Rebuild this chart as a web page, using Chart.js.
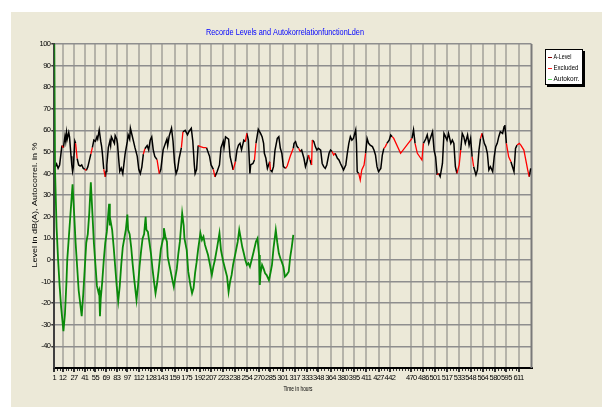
<!DOCTYPE html>
<html><head><meta charset="utf-8">
<style>html,body{margin:0;padding:0;background:#fff;}canvas{display:block;}</style>
<script src="https://cdn.jsdelivr.net/npm/chart.js@4.4.1/dist/chart.umd.min.js"></script>
</head><body>
<canvas id="c" width="602" height="407"></canvas>
<script>
const chartTitle = 'Recorde Levels and AutokorrelationfunctionLden';
const xAxisTitle = 'Time in hours';
const yAxisTitle = 'Level in dB(A), Autocorrel. in %';
const seriesNames = ['A-Level', 'Excluded', 'Autokorr.'];
const xTickHours = [1,12,27,41,55,69,83,97,112,128,143,159,175,192,207,223,238,254,270,285,301,317,333,348,364,380,395,411,427,442,470,486,501,517,533,548,564,580,595,611];
const yTickValues = [-40,-30,-20,-10,0,10,20,30,40,50,60,70,80,90,100];

// A-Level readings: [hour, dB(A)]
const levelReadings = [[2,43],[4,44.5],[6,42.5],[8,44],[11,53],[13,52],[15,57.3],[16,55],[17,59],[18,56],[20,59],[21,57],[23,48],[24,44],[25,41],[26,43],[28,55],[29,54],[31,47],[33,44],[35,43.5],[37,44],[39,42.5],[41,42],[43,41.5],[45,43],[47,46],[49,49],[51,52],[53,55.5],[55,55],[57,57],[58,56],[60,60.2],[62,55],[63,53],[64,50],[66,42],[68,38.5],[69,41],[70,44],[72,52],[74,55],[75,53],[76,57],[78,55.5],[80,54],[81,57.6],[83,56],[84,54],[86,45],[87,41],[89,42.5],[91,40],[94,49],[97,55],[98,58],[100,56],[101,61],[103,58],[105,55],[107,52],[110,48],[112,42],[114,40],[116,43],[118,49],[120,51.5],[123,53],[125,51],[127,55.5],[129,57],[131,51],[133,48],[136,46.5],[138,42],[139,40],[141,42],[144,51],[147,54],[149,56],[150,53],[152,57.5],[155,61],[157,55],[159,45],[161,40],[163,42],[165,47],[168,52],[170,59.3],[173,60],[176,58],[178,59.5],[181,61],[183,55],[185,44],[186,40],[188,42],[190,53],[193,52.5],[197,52],[201,52],[205,48],[207,44],[210,42],[212,38.5],[215,41],[218,44],[220,52],[223,55],[224,52],[226,57],[230,56],[232,47.8],[236,41.7],[239,45.5],[241,50.9],[243,53.2],[245,54],[247,51],[250,55.5],[252,54.8],[254,58.6],[256,55.5],[258,40.1],[259,44],[262,44.7],[264,46.3],[266,54],[269,60.5],[272,58.6],[274,57.1],[276,54],[277,49.4],[279,47.1],[281,42.4],[284,45.5],[285,41.7],[287,40.9],[289,43.2],[291,50.9],[294,56.3],[296,57.1],[298,51.7],[300,49.4],[302,43.2],[305,42.4],[307,43.5],[311,48],[315,51.7],[316,54],[318,54.8],[320,52.5],[322,51.7],[324,50.2],[326,50.9],[329,47.1],[331,43.2],[333,45.5],[335,48.6],[337,46.3],[339,44],[340,55.5],[342,54.8],[344,52.5],[346,50.9],[348,51.7],[351,50.9],[353,44.7],[355,43.2],[357,42.4],[359,44],[362,49.4],[364,50.9],[366,50.2],[368,48.6],[370,49.4],[373,47.1],[375,46.3],[377,44.7],[379,43.2],[381,41.7],[384,44],[386,49.4],[388,54],[390,57.1],[392,55.5],[394,56.3],[397,60.2],[398,54],[399,40.9],[401,40.1],[403,37],[405,41.7],[408,44],[410,49.4],[412,56.3],[414,54],[416,53.2],[419,52.5],[421,50.9],[423,48.6],[425,43.2],[427,40.9],[430,42.4],[432,48.6],[434,51.7],[436,52.5],[438,54],[441,55.5],[443,57.9],[445,57.1],[447,56.3],[456,49.4],[471,56.3],[473,60.2],[475,54],[478,49.4],[484,46.3],[486,54],[489,56],[491,57.9],[493,54],[495,56.3],[498,59.4],[500,50.9],[502,47.8],[504,39.4],[506,40.1],[508,38.6],[511,44.7],[513,58.6],[515,57.1],[517,55.5],[519,58.6],[522,54],[524,55.5],[526,54],[528,43.2],[530,40.1],[533,44],[535,50.9],[537,58.6],[539,57.1],[541,54],[544,57.9],[546,53.2],[548,56.3],[550,47.8],[552,43.2],[555,39.4],[557,41.7],[559,50.9],[561,56.3],[563,58.6],[566,54],[568,52.5],[570,49.4],[572,41.7],[574,43.2],[577,40.9],[579,47.8],[581,52.5],[583,54],[585,57.1],[587,59.4],[590,58.6],[592,61.7],[593,62.5],[595,54],[598,47.8],[601,45.5],[603,43.2],[605,40.9],[607,51.7],[609,53.2],[612,54],[614,53.2],[618,50.9],[623,41.7],[625,38.6],[627,42.4]];

// hour ranges of A-Level readings flagged as excluded: [from, to]
const excludedRanges = [[11,13],[29,31],[41,43],[49,51],[66,68],[118,120],[136,139],[168,170],[190,201],[210,212],[236,239],[252,254],[264,266],[284,285],[305,315],[322,324],[335,337],[339,340],[366,370],[401,410],[434,438],[445,471],[475,486],[504,506],[530,535],[550,552],[561,563],[595,601],[609,625]];

// autocorrelation readings: [lag hour, %]
const autocorrReadings = [[1,100],[2,41],[4,15],[6,0],[8,-12],[10,-22],[13,-33],[15,-25],[17,-10],[18,0],[20,10],[22,20],[25,35],[27,22],[29,8],[31,-3],[33,-14],[35,-20],[37,-26],[39,-16],[41,-4],[43,8],[45,12],[47,22],[49,36],[51,22],[53,8],[55,-2],[57,-12],[59,-15],[60,-14],[61,-26],[62,-18],[64,-10],[66,0],[68,8],[70,13],[73,26],[74,16],[75,18],[77,14],[79,6],[81,-3],[83,-12],[85,-19],[87,-12],[89,-2],[91,6],[93,10],[95,14],[97,21],[98,14],[100,12],[102,6],[104,-2],[106,-9],[109,-18.5],[111,-12],[113,-3],[115,4],[117,10],[119,12],[121,20],[122,14],[124,13],[126,8],[128,3],[130,-4],[132,-10],[134,-15.4],[136,-11],[138,-5],[141,5],[144,10],[145,14.7],[147,10.8],[149,8.5],[150,1.5],[152,-2],[154,-5.4],[156,-9],[158,-12.4],[160,-8],[162,-4],[164,3],[166,8.5],[169,21.6],[171,16],[172,10],[175,4.6],[177,-5.4],[180,-12],[182,-15.4],[184,-13],[186,-6],[188,-1],[190,5],[193,12.4],[195,9.3],[197,10.8],[199,7],[201,4.6],[203,2.3],[206,-3],[208,-6.9],[210,-3],[212,0],[215,6],[218,12.4],[220,4.6],[223,-0.8],[226,-5],[228,-7.7],[230,-14.7],[232,-10],[234,-6.9],[236,-2],[239,3.1],[242,8.5],[244,13.9],[246,10],[248,6],[250,3.1],[252,0],[254,-2.3],[256,-1.5],[258,-3.1],[261,1],[263,3.9],[266,8.5],[268,10],[270,2.3],[271,-11.6],[272,-6],[274,-2.3],[276,-4],[278,-6.2],[280,-7],[283,-9.3],[285,-6],[287,-2.3],[289,5.4],[292,13.9],[294,8],[296,3.1],[298,0.8],[300,-1],[302,-3.1],[304,-7.7],[306,-7],[309,-5.4],[311,1.5],[313,6],[315,11.6]];

const FONT = '"Liberation Sans", Arial, sans-serif';
const inExcl = (h0, h1) => excludedRanges.some(r => h0 >= r[0] && h1 <= r[1]);
const levelData = levelReadings.map(r => ({x: r[0], y: r[1]}));
const segExcl = levelReadings.map((r, i) => i < levelReadings.length - 1 && inExcl(r[0], levelReadings[i + 1][0]));
const autocorrData = autocorrReadings.map(r => ({x: r[0], y: r[1]}));
const legendColors = ['#800000', '#ff2020', '#60e060'];

function fitText(ctx, text, x, y, w, size, color, rot, align) {
  ctx.save();
  ctx.letterSpacing = '0px';
  ctx.font = size + 'px ' + FONT;
  const m = ctx.measureText(text).width;
  ctx.translate(x, y);
  if (rot) ctx.rotate(rot);
  ctx.scale(w / m, 1);
  ctx.fillStyle = color;
  ctx.textAlign = align || 'center';
  ctx.textBaseline = 'middle';
  ctx.fillText(text, 0, 0);
  ctx.restore();
}

const decorPlugin = {
  id: 'decor',
  beforeDraw(chart) {
    const ctx = chart.ctx;
    ctx.save();
    ctx.fillStyle = '#ffffff';
    ctx.fillRect(0, 0, chart.width, chart.height);
    ctx.fillStyle = '#ece9d8';
    ctx.fillRect(11, 12, chart.width - 11, chart.height - 12);
    ctx.restore();
    ctx.letterSpacing = '-0.6px';
  },
  beforeDatasetsDraw(chart) {
    const ctx = chart.ctx, a = chart.chartArea, xs = chart.scales.x;
    ctx.save();
    ctx.strokeStyle = '#7a7a7a';
    ctx.lineWidth = 2;
    ctx.beginPath();
    ctx.moveTo(a.right, a.top);
    ctx.lineTo(a.right, a.bottom);
    ctx.stroke();
    ctx.strokeStyle = '#333';
    ctx.lineWidth = 1;
    for (let i = 0; i < xTickHours.length - 1; i++) {
      const h0 = xTickHours[i], h1 = xTickHours[i + 1];
      const k = Math.max(1, Math.round((h1 - h0) / 15.3 * 4));
      for (let j = 1; j < k; j++) {
        const px = Math.round(xs.getPixelForValue(h0 + (h1 - h0) * j / k)) + 0.5;
        ctx.beginPath();
        ctx.moveTo(px, a.bottom + 1);
        ctx.lineTo(px, a.bottom + 3);
        ctx.stroke();
      }
    }
    ctx.restore();
  },
  afterDraw(chart) {
    const ctx = chart.ctx;
    fitText(ctx, chartTitle, 285, 33, 158, 8.5, '#0000ff');
    fitText(ctx, xAxisTitle, 298, 389, 29, 8, '#000');
    fitText(ctx, yAxisTitle, 35, 205, 125, 8, '#000', -Math.PI / 2);
    const bx = 545, by = 49, bw = 38, bh = 36;
    ctx.save();
    ctx.letterSpacing = '0px';
    ctx.fillStyle = '#000';
    ctx.fillRect(bx + 2, by + 2, bw, bh);
    ctx.fillStyle = '#fff';
    ctx.fillRect(bx, by, bw, bh);
    ctx.strokeStyle = '#000';
    ctx.lineWidth = 1;
    ctx.strokeRect(bx + 0.5, by + 0.5, bw - 1, bh - 1);
    const widths = [18, 25, 26];
    chart.data.datasets.forEach((ds, i) => {
      const yy = by + 7.5 + i * 11;
      ctx.strokeStyle = legendColors[i];
      ctx.lineWidth = 1;
      ctx.beginPath();
      ctx.moveTo(bx + 3, Math.round(yy) + 0.5);
      ctx.lineTo(bx + 7, Math.round(yy) + 0.5);
      ctx.stroke();
      fitText(ctx, ds.label, bx + 8.5, yy, widths[i], 8, '#000', 0, 'left');
    });
    ctx.restore();
  }
};

new Chart(document.getElementById('c'), {
  type: 'line',
  data: {
    datasets: [
      {label: seriesNames[0], data: levelData, borderColor: '#000000', borderWidth: 1.5, pointRadius: 0, order: 2,
        segment: {borderColor: c => segExcl[c.p0DataIndex] ? 'rgba(0,0,0,0)' : '#000000'}},
      {label: seriesNames[1], data: levelData, borderColor: '#ff0000', borderWidth: 1.3, pointRadius: 0, order: 1,
        segment: {borderColor: c => segExcl[c.p0DataIndex] ? '#ff0000' : 'rgba(0,0,0,0)'}},
      {label: seriesNames[2], data: autocorrData, borderColor: '#0a8a0a', borderWidth: 1.8, pointRadius: 0, order: 0}
    ]
  },
  options: {
    responsive: false,
    animation: false,
    devicePixelRatio: 1,
    events: [],
    layout: {padding: {left: 0, top: 44, right: 70.5, bottom: 0}},
    plugins: {legend: {display: false}, title: {display: false}, tooltip: {enabled: false}},
    elements: {line: {tension: 0}},
    scales: {
      x: {
        type: 'linear', min: 1, max: 628,
        afterBuildTicks: s => { s.ticks = xTickHours.map(v => ({value: v})); },
        afterFit: s => { s.height = 39; },
        ticks: {autoSkip: false, maxRotation: 0, minRotation: 0, padding: 1, color: '#000',
          font: {size: 7.5, family: FONT}, callback: v => String(v)},
        grid: {color: c => (c.tick && c.tick.value === 1) ? 'rgba(0,0,0,0)' : '#b5b3a9', lineWidth: 2, tickColor: '#333', tickLength: 4},
        border: {color: '#000', width: 2}
      },
      y: {
        type: 'linear', min: -50, max: 100,
        afterBuildTicks: s => { s.ticks = [-50].concat(yTickValues).map(v => ({value: v})); },
        afterFit: s => { s.width = 54.3; },
        ticks: {padding: 1, color: '#000', font: {size: 7.5, family: FONT},
          callback: v => (v === -50 ? '' : String(v))},
        grid: {color: c => (c.tick && c.tick.value === -50) ? 'rgba(0,0,0,0)' : '#8e8e8e', lineWidth: 1.5,
          tickColor: c => (c.tick && c.tick.value === -50) ? 'rgba(0,0,0,0)' : '#333', tickLength: 3},
        border: {color: '#404040', width: 2}
      }
    }
  },
  plugins: [decorPlugin]
});
</script>
</body></html>
